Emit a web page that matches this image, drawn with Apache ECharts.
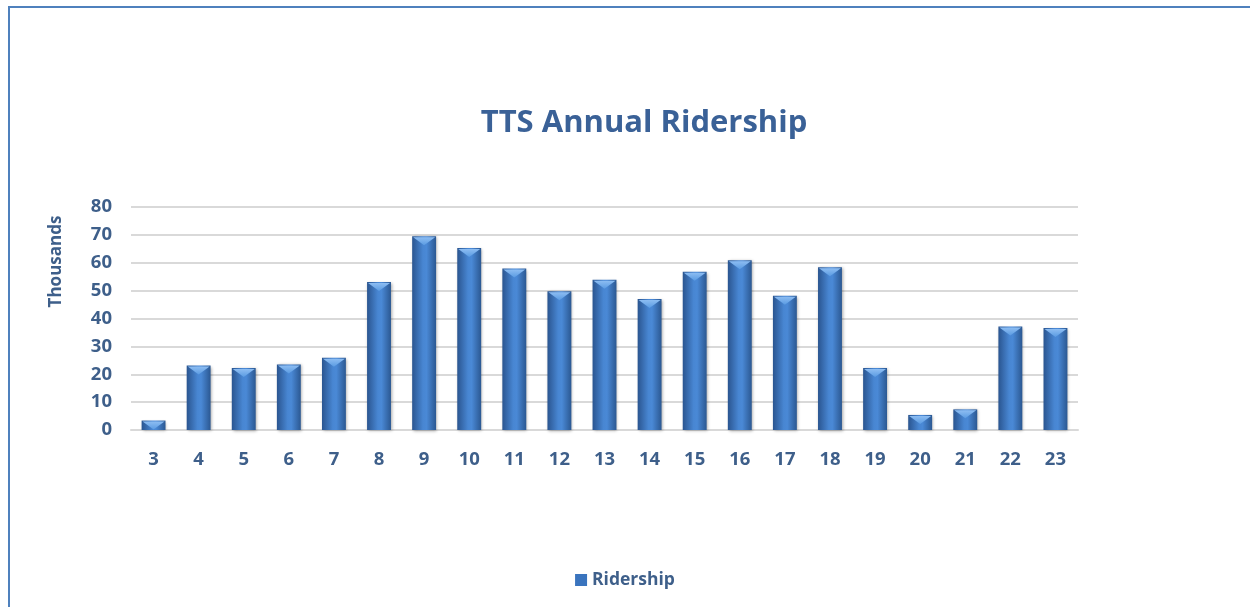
<!DOCTYPE html>
<html>
<head>
<meta charset="utf-8">
<title>TTS Annual Ridership</title>
<script src="https://cdn.jsdelivr.net/npm/echarts@6/dist/echarts.min.js"></script>
<style>
  html, body { margin: 0; padding: 0; background: #fff; }
  #frame { position: absolute; left: 8px; top: 6px; width: 1250px; height: 610px;
           border-top: 2px solid #4F81BD; border-left: 2px solid #4F81BD; box-sizing: border-box; }
  #chart { position: absolute; left: 0; top: 0; width: 1250px; height: 607px; }
</style>
</head>
<body>
<div id="frame"></div>
<div id="chart"></div>
<script>
// ---- datos ----
const years = ['3', '4', '5', '6', '7', '8', '9', '10', '11', '12', '13', '14', '15', '16', '17', '18', '19', '20', '21', '22', '23'];
const ridership = [3.4, 23.1, 22.2, 23.5, 25.9, 53.1, 69.5, 65.3, 57.9, 49.8, 53.9, 47.0, 56.8, 60.9, 48.2, 58.4, 22.2, 5.4, 7.4, 37.1, 36.6];
const yTicks = [0, 10, 20, 30, 40, 50, 60, 70, 80];

// ---- colores ----
const TEXT = '#3E5F8A';
const GRID = '#D9D9D9';
const barFill = new echarts.graphic.LinearGradient(0, 0, 1, 0, [
  { offset: 0, color: '#2A5590' },
  { offset: 0.45, color: '#4886D2' },
  { offset: 0.6, color: '#4A89D6' },
  { offset: 1, color: '#2B5892' },
]);
const bevelFill = new echarts.graphic.LinearGradient(0, 0, 0, 1, [
  { offset: 0, color: '#8DBDF2' },
  { offset: 1, color: '#5A9BE2' },
]);

// barra con bisel superior, posicionada por las escalas del eje
function renderBar(params, api) {
  const top = api.coord([api.value(0), api.value(1)]);
  const base = api.coord([api.value(0), 0]);
  const w = api.size([1, 0])[0] * 0.53;
  const x = top[0] - w / 2;
  const h = base[1] - top[1];
  const bev = Math.min(8, h - 1);
  return {
    type: 'group',
    children: [
      { type: 'rect', shape: { x: x, y: top[1], width: w, height: h },
        style: { fill: barFill, shadowBlur: 3, shadowColor: 'rgba(0,0,0,0.35)', shadowOffsetX: 1, shadowOffsetY: 1 } },
      { type: 'polygon', shape: { points: [[x + 1, top[1] + 1], [x + w - 1, top[1] + 1], [top[0], top[1] + bev + 1]] },
        style: { fill: bevelFill } },
    ],
  };
}

const chart = echarts.init(document.getElementById('chart'), null, { renderer: 'canvas' });
chart.setOption({
  animation: false,
  title: {
    text: 'TTS Annual Ridership', left: 639, top: 103, textAlign: 'center',
    textStyle: { fontFamily: 'Open Sans', fontWeight: 'bold', fontSize: 31, color: '#3A6197' },
  },
  legend: {
    bottom: 13, left: 'center', itemWidth: 12, itemHeight: 12, itemGap: 6,
    data: [{ name: 'Ridership', icon: 'rect' }],
    textStyle: { fontFamily: 'Open Sans', fontWeight: 'bold', fontSize: 17.5, color: TEXT },
  },
  grid: { left: 131, right: 172, top: 207, bottom: 177 },
  xAxis: {
    type: 'category', data: years,
    axisLine: { lineStyle: { color: GRID, width: 2 } },
    axisTick: { show: false },
    axisLabel: { margin: 20, fontFamily: 'Open Sans', fontWeight: 'bold', fontSize: 18.5, color: TEXT },
  },
  yAxis: {
    type: 'value', min: yTicks[0], max: yTicks[yTicks.length - 1], interval: 10,
    name: 'Thousands', nameLocation: 'middle', nameGap: 66, nameRotate: 90,
    nameTextStyle: { fontFamily: 'Open Sans', fontWeight: 'bold', fontSize: 17, color: TEXT, padding: [0, 0, 0, 114] },
    axisLine: { show: false }, axisTick: { show: false },
    axisLabel: { margin: 19, fontFamily: 'Open Sans', fontWeight: 'bold', fontSize: 18.5, color: TEXT },
    splitLine: { lineStyle: { color: GRID, width: 2 } },
  },
  series: [{
    name: 'Ridership', type: 'custom', renderItem: renderBar,
    itemStyle: { color: '#3A74BE' },
    encode: { x: 0, y: 1 },
    data: years.map((y, i) => [i, ridership[i]]),
  }],
});
</script>
</body>
</html>
